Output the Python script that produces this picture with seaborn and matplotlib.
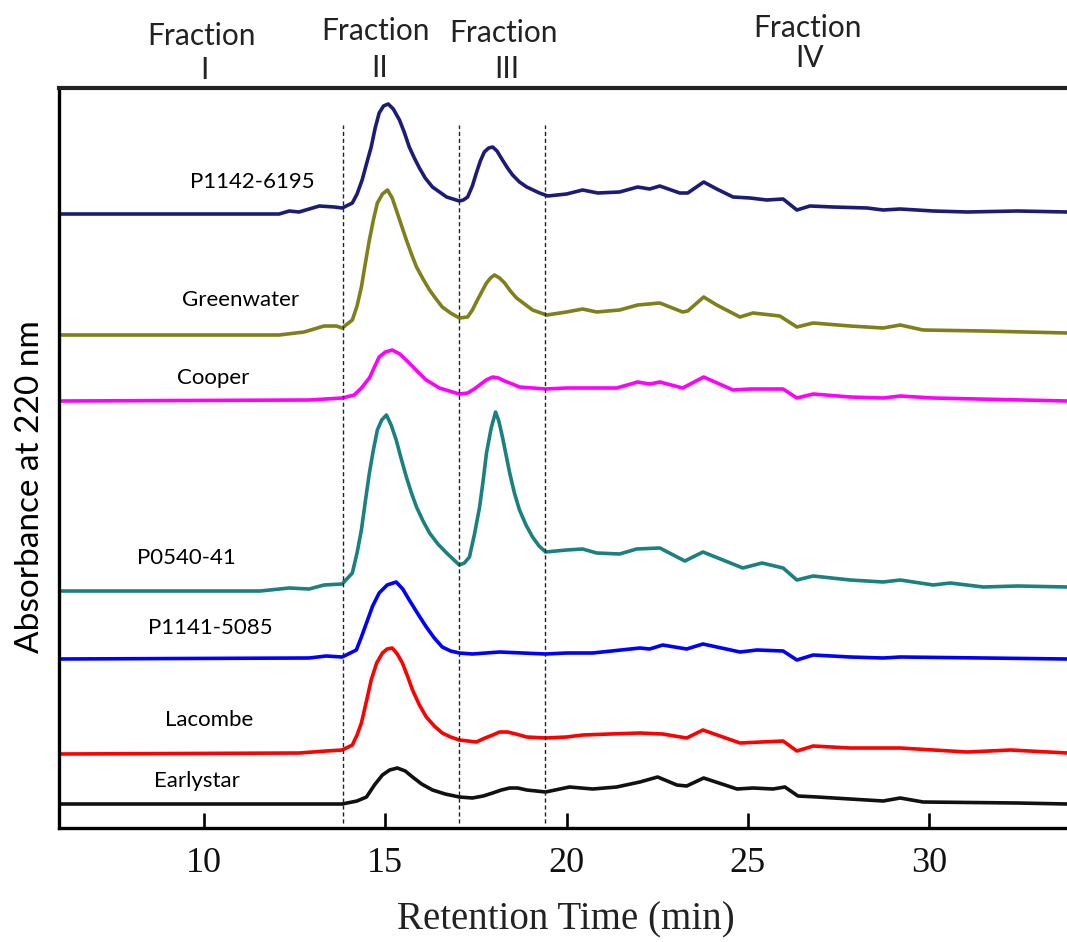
import numpy as np
import pandas as pd
import matplotlib
matplotlib.use("Agg")
import matplotlib.pyplot as plt
import seaborn as sns

# ---- data (retention time in min, stacked absorbance in relative units) ----
names = ["P1142-6195", "Greenwater", "Cooper", "P0540-41", "P1141-5085", "Lacombe", "Earlystar"]
colors = ["#1c1c78", "#7f7f1c", "#ff00ff", "#1a8080", "#0000ff", "#ff0000", "#111111"]

t_p1142 = [6.0, 12.07, 12.35, 12.62, 13.18, 13.59, 13.81, 14.09, 14.22, 14.36, 14.48, 14.61, 14.72, 14.83,
           14.95, 15.08, 15.22, 15.39, 15.52, 15.66, 15.80, 15.94, 16.10, 16.30, 16.69, 17.04, 17.15, 17.27,
           17.40, 17.51, 17.62, 17.73, 17.85, 17.96, 18.08, 18.23, 18.37, 18.51, 18.70, 18.90, 19.25, 19.48,
           20.00, 20.44, 20.86, 21.46, 21.96, 22.29, 22.57, 23.12, 23.34, 23.78, 24.14, 24.59, 25.06, 25.52,
           25.97, 26.35, 26.71, 27.35, 28.29, 28.73, 29.20, 30.11, 31.05, 32.43, 33.81]
a_p1142 = [614, 614, 617, 616, 622, 621, 620, 625, 634, 648, 664, 681, 700, 715,
           722, 724, 719, 708, 696, 681, 670, 660, 650, 641, 631, 627, 628, 631,
           642, 655, 667, 676, 680, 681, 677, 668, 660, 653, 646, 641, 635, 632,
           634, 638, 635, 636, 641, 639, 642, 635, 635, 646, 639, 631, 630, 628,
           629, 618, 622, 621, 620, 618, 619, 617, 616, 617, 616]

t_green = [6.0, 12.07, 12.76, 13.31, 13.65, 13.81, 14.09, 14.22, 14.34, 14.45, 14.56, 14.67, 14.78, 14.92,
           15.06, 15.19, 15.33, 15.45, 15.58, 15.72, 15.86, 16.04, 16.22, 16.40, 16.57, 16.80, 17.04, 17.27,
           17.40, 17.54, 17.67, 17.79, 17.90, 18.01, 18.15, 18.29, 18.45, 18.62, 19.06, 19.45, 20.00, 20.44,
           20.83, 21.46, 21.96, 22.57, 23.20, 23.34, 23.78, 24.14, 24.78, 25.14, 25.88, 26.35, 26.80, 27.82,
           28.73, 29.20, 29.83, 31.49, 33.81]
a_green = [493, 493, 496, 502, 502, 500, 508, 522, 541, 565, 588, 608, 625, 634,
           638, 630, 615, 602, 588, 574, 561, 549, 538, 529, 521, 515, 510, 511,
           518, 528, 537, 545, 550, 553, 550, 545, 537, 530, 518, 513, 516, 519,
           516, 518, 523, 525, 516, 517, 531, 523, 511, 515, 512, 501, 505, 502,
           500, 503, 498, 497, 495]

t_cooper = [6.0, 12.90, 13.81, 14.14, 14.34, 14.56, 14.70, 14.83, 15.00, 15.19, 15.40, 15.66, 15.90, 16.13,
            16.49, 17.04, 17.27, 17.45, 17.60, 17.78, 17.96, 18.12, 18.29, 18.50, 18.70, 19.42, 20.00, 20.44,
            21.38, 21.96, 22.29, 22.57, 23.20, 23.78, 24.59, 25.06, 25.97, 26.35, 26.80, 27.82, 28.73, 29.20,
            30.11, 33.81]
a_cooper = [427, 428, 430, 433, 440, 450, 461, 471, 476, 478, 474, 465, 456, 448,
            440, 434, 435, 439, 443, 448, 451, 450, 447, 444, 441, 439, 440, 440,
            440, 446, 444, 446, 440, 451, 438, 439, 439, 430, 434, 431, 430, 432,
            430, 427]

t_p0540 = [6.0, 11.55, 12.35, 12.90, 13.31, 13.81, 14.09, 14.22, 14.34, 14.45, 14.56, 14.67, 14.78, 14.90,
           15.03, 15.16, 15.30, 15.44, 15.58, 15.72, 15.86, 16.04, 16.22, 16.45, 16.69, 17.04, 17.18, 17.32,
           17.46, 17.60, 17.70, 17.79, 17.92, 18.04, 18.13, 18.23, 18.33, 18.43, 18.56, 18.70, 18.88, 19.06,
           19.24, 19.42, 20.00, 20.44, 20.83, 21.46, 21.93, 22.57, 23.26, 23.76, 24.86, 25.39, 25.97, 26.35,
           26.80, 27.82, 28.73, 29.20, 30.11, 30.58, 31.49, 32.43, 33.81]
a_p0540 = [237, 237, 240, 239, 243, 244, 255, 275, 298, 327, 355, 378, 398, 408,
           413, 403, 388, 369, 351, 335, 321, 307, 295, 284, 275, 263, 265, 271,
           294, 321, 348, 375, 400, 416, 407, 391, 373, 355, 335, 318, 303, 291,
           282, 276, 278, 279, 275, 274, 279, 280, 267, 276, 260, 265, 260, 248,
           252, 248, 246, 248, 243, 245, 241, 242, 241]

t_p1141 = [6.0, 12.90, 13.37, 13.81, 14.20, 14.34, 14.48, 14.65, 14.83, 15.05, 15.30, 15.48, 15.66, 15.90,
           16.13, 16.35, 16.57, 16.80, 17.04, 17.40, 18.15, 19.42, 20.00, 20.72, 22.02, 22.29, 22.65, 23.31,
           23.76, 24.78, 25.25, 25.97, 26.35, 26.80, 27.82, 28.73, 29.20, 33.81]
a_p1141 = [169, 170, 172, 171, 178, 191, 205, 222, 235, 243, 246, 239, 228, 214,
           201, 190, 181, 177, 175, 174, 176, 174, 175, 175, 180, 179, 183, 179,
           184, 176, 178, 177, 168, 173, 171, 170, 171, 169]

t_lacombe = [6.0, 12.62, 13.37, 13.81, 14.09, 14.22, 14.34, 14.48, 14.61, 14.76, 14.92, 15.05, 15.19, 15.33,
             15.47, 15.61, 15.75, 15.94, 16.13, 16.35, 16.57, 16.80, 17.04, 17.51, 17.75, 17.96, 18.15, 18.37,
             18.60, 18.90, 19.42, 20.00, 20.44, 21.19, 22.02, 22.65, 23.31, 23.76, 24.78, 25.97, 26.35, 26.80,
             27.82, 29.20, 31.05, 32.24, 33.81]
a_lacombe = [74, 75, 77, 78, 83, 93, 105, 127, 148, 165, 175, 179, 180, 174,
             165, 152, 138, 123, 111, 102, 95, 91, 88, 86, 90, 93, 96, 96,
             94, 91, 90, 91, 93, 94, 95, 94, 90, 98, 85, 87, 77, 82,
             80, 80, 76, 78, 75]

t_early = [6.0, 13.81, 14.22, 14.48, 14.70, 14.92, 15.12, 15.33, 15.55, 15.75, 16.00, 16.30, 16.65, 17.04,
           17.40, 17.70, 17.96, 18.20, 18.43, 18.65, 18.90, 19.42, 20.08, 20.72, 21.38, 22.02, 22.51, 23.04,
           23.31, 23.78, 24.70, 25.14, 25.69, 26.02, 26.38, 26.91, 27.82, 28.73, 29.20, 29.83, 32.43, 33.81]
a_early = [24, 24, 27, 31, 43, 53, 58, 60, 57, 51, 44, 38, 34, 31,
           30, 32, 35, 38, 40, 40, 38, 36, 41, 39, 41, 46, 51, 43,
           42, 50, 39, 40, 39, 41, 32, 31, 29, 27, 30, 26, 25, 24]

fraction_bounds = [13.82, 17.04, 19.41]
fraction_names = ["I", "II", "III", "IV"]
xticks = [10, 15, 20, 25, 30]

series_t = [t_p1142, t_green, t_cooper, t_p0540, t_p1141, t_lacombe, t_early]
series_a = [a_p1142, a_green, a_cooper, a_p0540, a_p1141, a_lacombe, a_early]

df = pd.concat([pd.DataFrame({"time": t, "abs": a, "sample": n})
                for t, a, n in zip(series_t, series_a, names)], ignore_index=True)

# ---- figure ----
sns.set_theme(style="white")
plt.rcParams["font.family"] = ["DejaVu Sans"]
W, H = 1067, 942
fig = plt.figure(figsize=(W / 100, H / 100), dpi=100)
ax = fig.add_axes([59 / W, 1 - 828 / H, 1 - 59 / W, (828 - 88) / H])

sns.lineplot(data=df, x="time", y="abs", hue="sample", hue_order=names,
             palette=dict(zip(names, colors)), estimator=None, sort=True,
             linewidth=2.6, legend=False, ax=ax)
for ln in ax.lines:
    ln.set_solid_joinstyle("round")
    ln.set_solid_capstyle("round")

for xb in fraction_bounds:
    ax.vlines(xb, 5, 703, colors="#222222", linestyles=(0, (3, 2)), linewidth=1.0)

ax.set_xlim(6.0, 33.8)
ax.set_ylim(0, 740)
ax.set_yticks([])
ax.set_xticks(xticks)
ax.set_xticklabels([str(v) for v in xticks], family="Liberation Serif", fontsize=26, color="#111111")
ax.tick_params(axis="x", direction="in", length=11, width=1.9, color="black", pad=14, bottom=True)
ax.set_xlabel("")
ax.set_ylabel("")
for s in ["left", "bottom"]:
    ax.spines[s].set_linewidth(2.4)
    ax.spines[s].set_color("black")
ax.spines["top"].set_linewidth(3)
ax.spines["top"].set_color("#222222")
ax.spines["right"].set_visible(False)

# sample labels
label_pos = [(252, 182), (241, 300), (213, 378), (186, 558), (210, 628), (209, 720), (197, 781)]
for n, (px, py) in zip(names, label_pos):
    fig.text(px / W, 1 - py / H, n, ha="center", va="center", fontsize=16, family="Lato", color="black")

# fraction labels (two lines, baselines)
frac_word_pos = [(202, 45), (375, 40), (503, 42), (807, 37)]
frac_num_pos = [(204, 79), (380, 77), (507, 78), (810, 67)]
for lab, (wx, wy), (nx, ny) in zip(fraction_names, frac_word_pos, frac_num_pos):
    fig.text(wx / W, 1 - wy / H, "Fraction", ha="center", va="baseline", fontsize=21.5,
             family="Lato", color="#222222")
    fig.text(nx / W, 1 - ny / H, lab, ha="center", va="baseline", fontsize=21.5,
             family="Lato", color="#222222")

fig.text(566 / W, 1 - 929 / H, "Retention Time (min)", ha="center", va="baseline",
         fontsize=28, family="Liberation Serif", color="#222222")
fig.text(30 / W, 1 - 487 / H, "Absorbance at 220 nm", ha="center", va="center", rotation=90,
         fontsize=24, family="Lato", color="black")

fig.savefig("out.png", dpi=100)
